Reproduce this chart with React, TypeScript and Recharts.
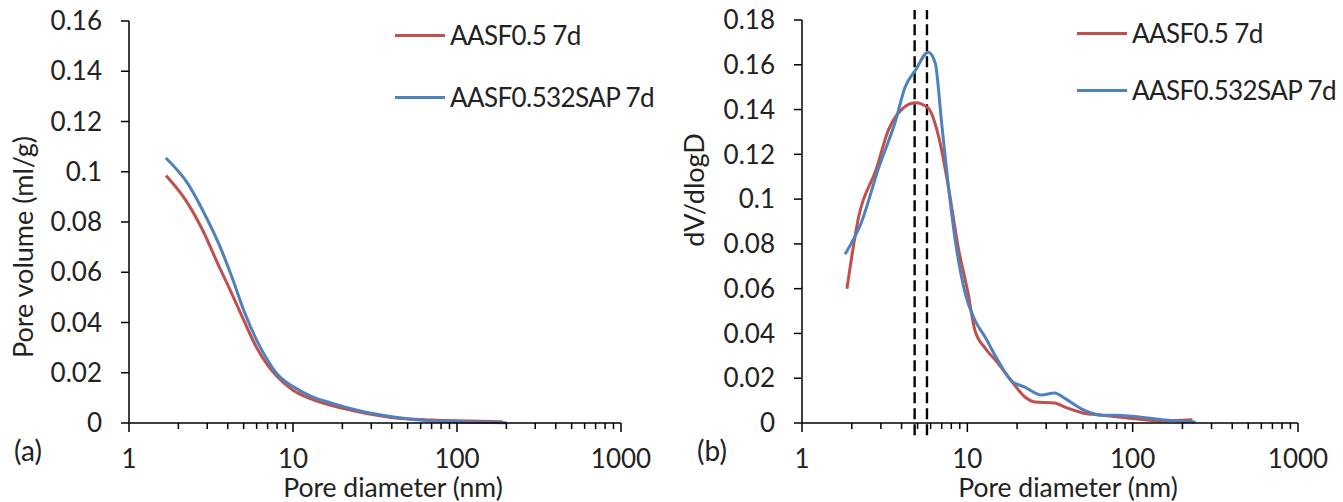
import React from 'react'
import { LineChart, Line, XAxis, YAxis, Legend, ReferenceLine, Label } from 'recharts'

const FONT = 'Lato, "Open Sans", sans-serif'
const TEXT = '#222'
const RED = '#C0504D'
const BLUE = '#4F81BD'

const seriesNames = ['AASF0.5 7d', 'AASF0.532SAP 7d']

const xTicks = [
  1, 2, 3, 4, 5, 6, 7, 8, 9,
  10, 20, 30, 40, 50, 60, 70, 80, 90,
  100, 200, 300, 400, 500, 600, 700, 800, 900, 1000
]
const decades = [1, 10, 100, 1000]

const volumeTicks = [0, 0.02, 0.04, 0.06, 0.08, 0.1, 0.12, 0.14, 0.16]
const dvTicks = [0, 0.02, 0.04, 0.06, 0.08, 0.1, 0.12, 0.14, 0.16, 0.18]

// (a) cumulative pore volume, ml/g
const volumeRed = [
  { d: 1.68, v: 0.0985 }, { d: 2.2, v: 0.089 }, { d: 2.8, v: 0.077 },
  { d: 3.5, v: 0.063 }, { d: 4.2, v: 0.052 }, { d: 5, v: 0.041 },
  { d: 6, v: 0.03 }, { d: 7, v: 0.023 }, { d: 8, v: 0.0185 },
  { d: 10, v: 0.013 }, { d: 13, v: 0.0095 }, { d: 17, v: 0.007 },
  { d: 25, v: 0.0045 }, { d: 40, v: 0.0022 }, { d: 70, v: 0.0012 },
  { d: 120, v: 0.0008 }, { d: 190, v: 0.0005 }
]
const volumeBlue = [
  { d: 1.68, v: 0.1055 }, { d: 2.3, v: 0.095 }, { d: 2.9, v: 0.083 },
  { d: 3.6, v: 0.07 }, { d: 4.3, v: 0.057 }, { d: 5, v: 0.045 },
  { d: 6, v: 0.033 }, { d: 7, v: 0.025 }, { d: 8, v: 0.0195 },
  { d: 10, v: 0.0145 }, { d: 13, v: 0.0105 }, { d: 17, v: 0.008 },
  { d: 25, v: 0.005 }, { d: 40, v: 0.0025 }, { d: 70, v: 0.0008 },
  { d: 120, v: 0.0003 }, { d: 200, v: 0.0001 }
]

// (b) dV/dlogD
const dvRed = [
  { d: 1.87, v: 0.06 }, { d: 2.2, v: 0.092 }, { d: 2.8, v: 0.113 },
  { d: 3.34, v: 0.131 }, { d: 4, v: 0.14 }, { d: 4.86, v: 0.143 },
  { d: 5.8, v: 0.1406 }, { d: 6.7, v: 0.128 }, { d: 7.7, v: 0.105 },
  { d: 8.8, v: 0.0786 }, { d: 10.1, v: 0.058 }, { d: 11.1, v: 0.0415 },
  { d: 12.8, v: 0.0335 }, { d: 15.3, v: 0.0268 }, { d: 18.4, v: 0.019 },
  { d: 22.3, v: 0.0116 }, { d: 25.6, v: 0.0094 }, { d: 33.8, v: 0.0089 },
  { d: 38.9, v: 0.0071 }, { d: 50, v: 0.0045 }, { d: 65, v: 0.0035 },
  { d: 100, v: 0.002 }, { d: 150, v: 0.001 }, { d: 230, v: 0.0015 }
]
const dvBlue = [
  { d: 1.82, v: 0.0754 }, { d: 2.27, v: 0.089 }, { d: 2.91, v: 0.114 },
  { d: 3.68, v: 0.135 }, { d: 4.2, v: 0.15 }, { d: 4.86, v: 0.1576 },
  { d: 5.8, v: 0.1656 }, { d: 6.4, v: 0.1607 }, { d: 6.97, v: 0.135 },
  { d: 7.7, v: 0.105 }, { d: 8.4, v: 0.083 }, { d: 9.7, v: 0.058 },
  { d: 11.1, v: 0.046 }, { d: 12.8, v: 0.0384 }, { d: 15.3, v: 0.028 },
  { d: 18.4, v: 0.019 }, { d: 22.3, v: 0.016 }, { d: 28, v: 0.0125 },
  { d: 33.8, v: 0.0134 }, { d: 38.9, v: 0.011 }, { d: 50, v: 0.006 },
  { d: 65, v: 0.0035 }, { d: 80, v: 0.0035 }, { d: 100, v: 0.003 },
  { d: 150, v: 0.0015 }, { d: 240, v: 0.0005 }
]

const peakDiameters = [4.8, 5.7]

const fmtY = (v: number) => (v === 0 ? '0' : String(+v.toFixed(2)))

function LogTick(props: any) {
  const { x, y, payload } = props
  const major = decades.includes(payload.value)
  return (
    <g>
      <line x1={x} y1={y} x2={x} y2={y + (major ? 9 : 6)} stroke="#000" strokeWidth={1.5} />
      {major && (
        <text x={x} y={y + 45} textAnchor="middle" fill={TEXT} fontSize={26} fontFamily={FONT}>
          {payload.value}
        </text>
      )}
    </g>
  )
}

function SeriesLegend(props: any) {
  const gap = props.gap
  return (
    <div>
      {props.payload.map((p: any, i: number) => (
        <div
          key={p.value}
          style={{ display: 'flex', alignItems: 'center', height: 34, marginTop: i ? gap : 0 }}
        >
          <span style={{ width: 50, height: 3, background: p.color, marginRight: 5 }} />
          <span
            style={{
              fontFamily: FONT,
              fontSize: 26,
              letterSpacing: -0.6,
              color: TEXT,
              whiteSpace: 'nowrap'
            }}
          >
            {p.value}
          </span>
        </div>
      ))}
    </div>
  )
}

function Panel(props: any) {
  const { width, margin, red, blue, ticks, yTitle, yTitleAt, tag, legendAt, legendGap, peaks } = props
  const top = ticks[ticks.length - 1]
  return (
    <LineChart width={width} height={502} margin={margin}>
      <XAxis
        dataKey="d"
        type="number"
        scale="log"
        domain={[1, 1000]}
        ticks={xTicks}
        allowDataOverflow
        axisLine={{ stroke: '#000', strokeWidth: 1.5 }}
        tickLine={false}
        tickSize={0}
        tickMargin={0}
        tick={<LogTick />}
        height={50}
        interval={0}
      >
        <Label
          content={() => (
            <g fontFamily={FONT} fill={TEXT}>
              <text x={props.xTitleX} y={497} textAnchor="middle" fontSize={26.5}>
                Pore diameter (nm)
              </text>
              <text x={props.tagX} y={461} textAnchor="middle" fontSize={28}>
                {tag}
              </text>
            </g>
          )}
        />
      </XAxis>
      <YAxis
        type="number"
        domain={[0, top]}
        ticks={ticks}
        width={props.yWidth}
        tickFormatter={fmtY}
        axisLine={{ stroke: '#000', strokeWidth: 1.5 }}
        tickLine={{ stroke: '#000', strokeWidth: 1.5 }}
        tickSize={8}
        tickMargin={19}
        tick={{ fill: TEXT, fontSize: 26, fontFamily: FONT }}
      >
        <Label
          content={() => (
            <text
              x={yTitleAt[0]}
              y={yTitleAt[1]}
              transform={`rotate(-90 ${yTitleAt[0]} ${yTitleAt[1]})`}
              textAnchor="middle"
              dominantBaseline="central"
              fontFamily={FONT}
              fontSize={27}
              fill={TEXT}
            >
              {yTitle}
            </text>
          )}
        />
      </YAxis>
      {peaks &&
        peaks.map((p: number) => (
          <ReferenceLine
            key={p}
            segment={[{ x: p, y: -0.0055 }, { x: p, y: top + 0.0045 }]}
            ifOverflow="visible"
            stroke="#000"
            strokeWidth={2.4}
            strokeDasharray="11 5"
          />
        ))}
      <Line
        data={red}
        dataKey="v"
        name={seriesNames[0]}
        type="monotone"
        stroke={RED}
        strokeWidth={3}
        dot={false}
        isAnimationActive={false}
      />
      <Line
        data={blue}
        dataKey="v"
        name={seriesNames[1]}
        type="monotone"
        stroke={BLUE}
        strokeWidth={3}
        dot={false}
        isAnimationActive={false}
      />
      <Legend
        layout="horizontal"
        verticalAlign="middle"
        align="center"
        wrapperStyle={{ left: legendAt[0], top: legendAt[1], width: 280 }}
        content={<SeriesLegend gap={legendGap} />}
      />
    </LineChart>
  )
}

export default function App() {
  return (
    <div style={{ position: 'absolute', left: 0, top: 0, width: 1343, height: 502, background: '#fff' }}>
      <div style={{ position: 'absolute', left: 0, top: 0 }}>
        <Panel
          width={672}
          margin={{ top: 21, right: 51, bottom: 29, left: 0 }}
          yWidth={129}
          red={volumeRed}
          blue={volumeBlue}
          ticks={volumeTicks}
          yTitle="Pore volume (ml/g)"
          yTitleAt={[22, 247]}
          tag="(a)"
          tagX={28}
          xTitleX={393}
          legendAt={[395, 18]}
          legendGap={28}
        />
      </div>
      <div style={{ position: 'absolute', left: 672, top: 0 }}>
        <Panel
          width={671}
          margin={{ top: 20, right: 45, bottom: 29, left: 0 }}
          yWidth={130}
          red={dvRed}
          blue={dvBlue}
          ticks={dvTicks}
          yTitle="dV/dlogD"
          yTitleAt={[21, 190]}
          tag="(b)"
          tagX={40}
          xTitleX={396}
          legendAt={[405, 16]}
          legendGap={23}
          peaks={peakDiameters}
        />
      </div>
    </div>
  )
}
